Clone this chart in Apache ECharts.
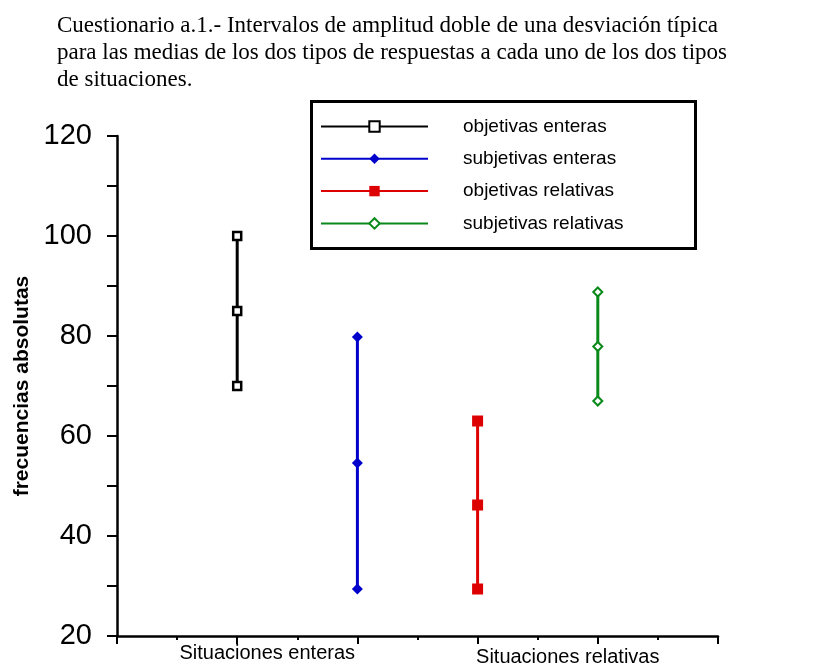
<!DOCTYPE html>
<html>
<head>
<meta charset="utf-8">
<script src="https://cdn.jsdelivr.net/npm/echarts@6/dist/echarts.min.js"></script>
<style>html,body{margin:0;padding:0;background:#fff;}#c{width:833px;height:664px;}</style>
</head>
<body>
<div id="c"></div>
<script>
const titleLines = [
  'Cuestionario a.1.- Intervalos de amplitud doble de una desviación típica',
  'para las medias de los dos tipos de respuestas a cada uno de los dos tipos',
  'de situaciones.'
];
const yAxisName = 'frecuencias absolutas';
const situationLabels = ['Situaciones enteras', 'Situaciones relativas'];
const situationPositions = [2.5, 7.5];
const seriesNames = ['objetivas enteras', 'subjetivas enteras', 'objetivas relativas', 'subjetivas relativas'];
const xPositions = [2, 4, 6, 8];
const upperValues = [100, 79.8, 63.0, 88.8];
const meanValues = [85, 54.6, 46.2, 77.9];
const lowerValues = [70, 29.4, 29.4, 67.0];

const colors = ['#000000', '#0000cc', '#dd0000', '#0a8a1a'];
const symbols = ['rect', 'diamond', 'rect', 'diamond'];
const symbolSizes = [8, [11, 11], 11, [9, 9]];
const hollow = [true, false, false, true];

const series = seriesNames.map((name, i) => ({
  name: name,
  type: 'line',
  data: [[xPositions[i], upperValues[i]], [xPositions[i], meanValues[i]], [xPositions[i], lowerValues[i]]],
  symbol: symbols[i],
  symbolSize: symbolSizes[i],
  showAllSymbol: true,
  lineStyle: { color: colors[i], width: 3 },
  itemStyle: hollow[i]
    ? { color: '#ffffff', borderColor: colors[i], borderWidth: i === 0 ? 2.5 : 2 }
    : { color: colors[i], borderWidth: 0 },
  emphasis: { disabled: true },
  animation: false
}));

const chart = echarts.init(document.getElementById('c'), null, { renderer: 'canvas' });
chart.setOption({
  backgroundColor: '#ffffff',
  animation: false,
  title: {
    text: titleLines.join('\n'),
    left: 52,
    top: 7,
    textStyle: { fontFamily: 'Liberation Serif', fontSize: 23, fontWeight: 'normal', color: '#000', lineHeight: 27 }
  },
  graphic: [{
    type: 'rect',
    z: 3,
    shape: { x: 311.5, y: 101.5, width: 384, height: 147 },
    style: { fill: '#ffffff', stroke: '#000000', lineWidth: 3 }
  }],
  legend: {
    orient: 'vertical',
    left: 320,
    top: 117,
    padding: 0,
    itemWidth: 107,
    itemHeight: 13,
    itemGap: 13.3,
    z: 5,
    selectedMode: false,
    data: seriesNames,
    textStyle: { fontFamily: 'Liberation Sans', fontSize: 19, color: '#000', padding: [0, 0, 0, 30] }
  },
  grid: { left: 117, right: 115, top: 136, bottom: 28, containLabel: false, outerBoundsMode: 'none' },
  xAxis: {
    type: 'value',
    min: 0, max: 10, interval: 2,
    axisLine: { show: true, lineStyle: { color: '#000', width: 2.5 } },
    axisTick: { show: true, length: 8, lineStyle: { color: '#000', width: 2 } },
    minorTick: { show: true, splitNumber: 2, length: 4, lineStyle: { color: '#000', width: 2 } },
    splitLine: { show: false },
    axisLabel: {
      customValues: situationPositions,
      formatter: (v) => {
        const idx = situationPositions.indexOf(v);
        if (idx < 0) return '';
        return '{' + (idx === 0 ? 'a' : 'b') + '|' + situationLabels[idx] + '}';
      },
      rich: {
        a: { fontFamily: 'Liberation Sans', fontSize: 20, color: '#000' },
        b: { fontFamily: 'Liberation Sans', fontSize: 20, color: '#000', padding: [4, 0, 0, 0] }
      },
      fontFamily: 'Liberation Sans', fontSize: 20, color: '#000', margin: 7
    }
  },
  yAxis: {
    type: 'value',
    min: 20, max: 120, interval: 20,
    name: yAxisName,
    nameLocation: 'middle',
    nameRotate: 90,
    nameGap: 83,
    nameTextStyle: { fontFamily: 'Liberation Sans', fontSize: 21, fontWeight: 'bold', color: '#000' },
    axisLine: { show: true, lineStyle: { color: '#000', width: 2.5 } },
    axisTick: { show: true, length: 10, lineStyle: { color: '#000', width: 2 } },
    minorTick: { show: true, splitNumber: 2, length: 10, lineStyle: { color: '#000', width: 2 } },
    splitLine: { show: false },
    axisLabel: { fontFamily: 'Liberation Sans', fontSize: 29, color: '#000', margin: 25 }
  },
  series: series
});
</script>
</body>
</html>
